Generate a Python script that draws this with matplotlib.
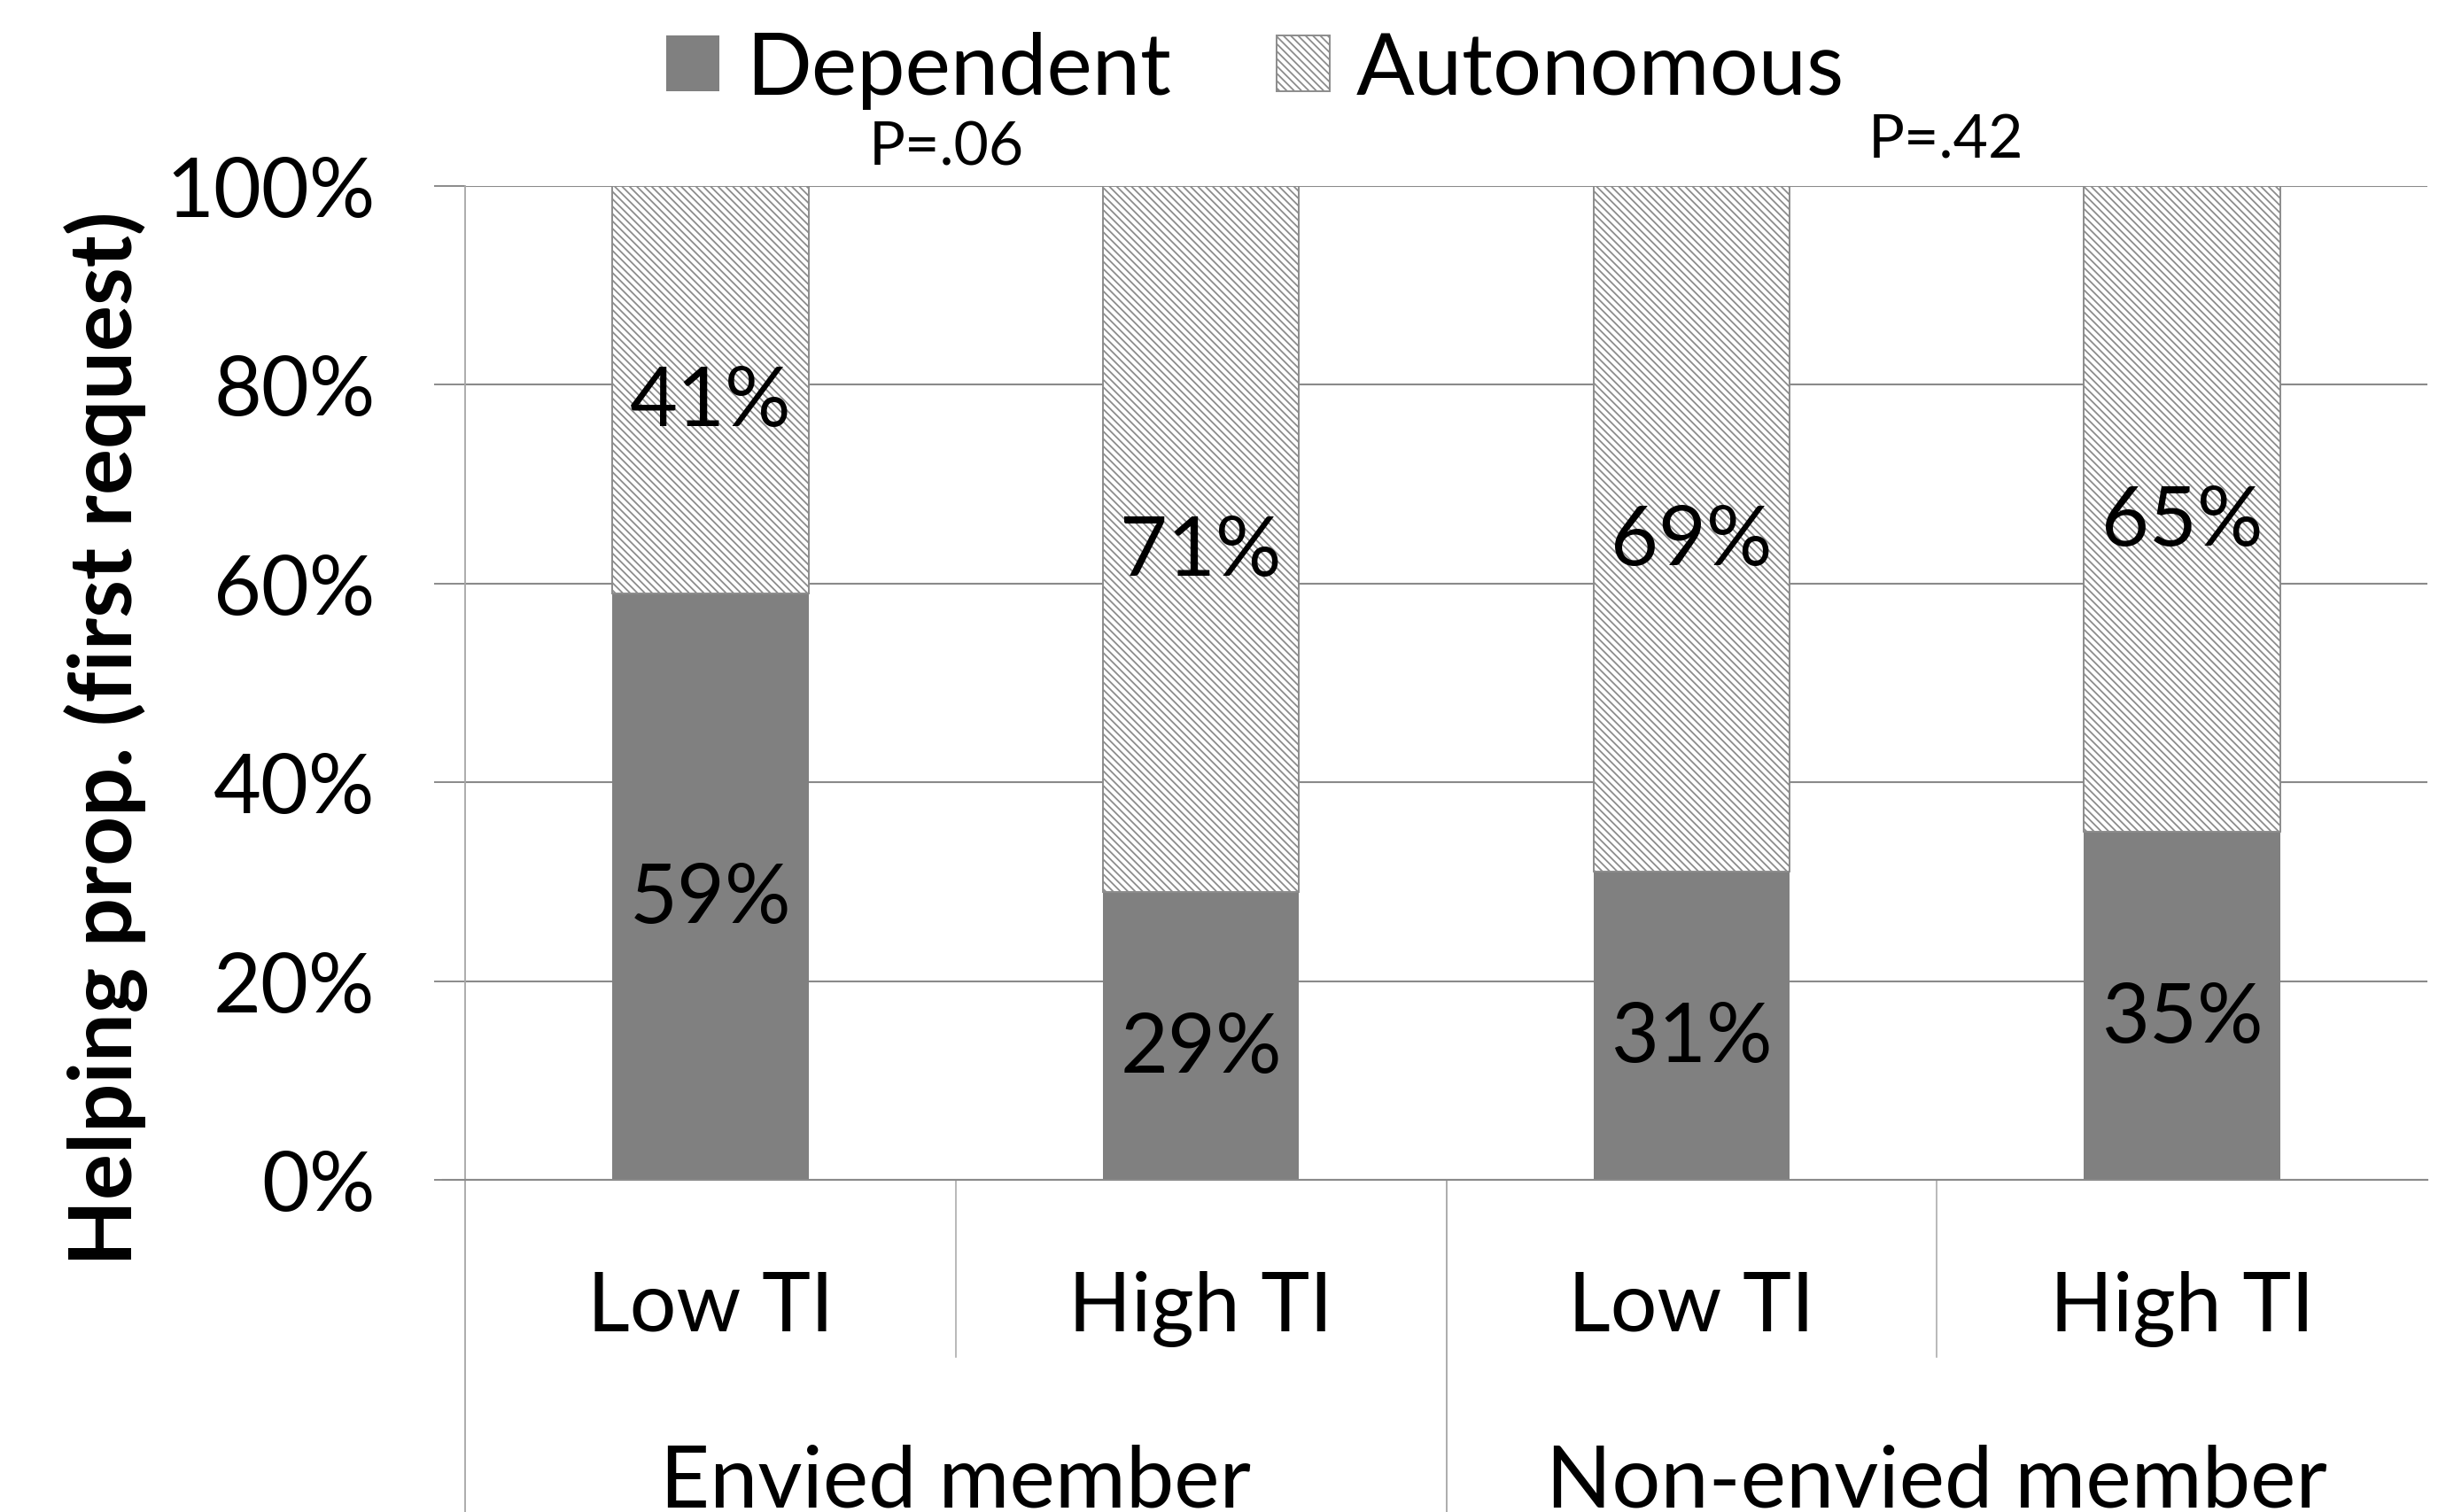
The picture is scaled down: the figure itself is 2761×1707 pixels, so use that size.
import numpy as np
import matplotlib.pyplot as plt
from matplotlib.patches import Patch
from matplotlib.ticker import PercentFormatter

plt.rcParams['font.family'] = ['Lato', 'DejaVu Sans']
plt.rcParams['hatch.linewidth'] = 1.3

# data
conditions = ['Low TI', 'High TI', 'Low TI', 'High TI']
groups = ['Envied member', 'Non-envied member']
dependent = [59, 29, 31, 35]
autonomous = [41, 71, 69, 65]
p_values = ['P=.06', 'P=.42']

W, H, DPI = 2761, 1708, 100
fig = plt.figure(figsize=(W / DPI, H / DPI), dpi=DPI)
ax = fig.add_axes([525 / W, 1 - 1333 / H, (2740 - 525) / W, (1333 - 211) / H])

dep_color = '#808080'
hatch_edge = '#8c8c8c'
grid_color = '#8a8a8a'
fs = 67      # numbers and category labels
fs_words = 70

x = np.arange(len(conditions)) + 0.5
dep = np.array(dependent) / 100
aut = np.array(autonomous) / 100

ax.bar(x, dep, width=0.4, color=dep_color, linewidth=0, zorder=2)
ax.bar(x, aut, width=0.4, bottom=dep, facecolor='white', edgecolor=hatch_edge,
       hatch='\\\\\\\\', linewidth=1.4, zorder=2)

# segment labels, caps sit slightly below the segment middle
for xi, d, a in zip(x, dep, aut):
    for yc, v in [(d / 2, d), (d + a / 2, a)]:
        ax.annotate(f'{round(v * 100)}%', (xi, yc), xytext=(0, -29),
                    textcoords='offset points', ha='center', va='baseline',
                    fontsize=fs, zorder=3)

ax.set_xlim(0, 4)
ax.set_ylim(0, 1)
ax.set_yticks(np.arange(0, 1.01, 0.2))
ax.yaxis.set_major_formatter(PercentFormatter(1.0, decimals=0))
ax.tick_params(axis='y', labelsize=fs, length=25, width=1.4, color=grid_color, pad=48)
ax.set_xticks([])
ax.grid(axis='y', color=grid_color, linewidth=1.5, zorder=0)
ax.set_axisbelow(True)

for s in ['top', 'right']:
    ax.spines[s].set_visible(False)
ax.spines['bottom'].set_color(grid_color)
ax.spines['bottom'].set_linewidth(1.5)
ax.spines['left'].set_visible(False)

# multi-level category axis
tr = ax.get_xaxis_transform()
ax.plot([0, 0], [1, -0.35], transform=tr, color='#a6a6a6', lw=1.3, clip_on=False)
ax.plot([-25 / 553.75, 0], [0, 0], transform=tr, color=grid_color, lw=1.5, clip_on=False)
for xs in [1, 3]:
    ax.plot([xs, xs], [0, -0.178], transform=tr, color='#a6a6a6', lw=1.1, clip_on=False)
ax.plot([2, 2], [0, -0.35], transform=tr, color='#a6a6a6', lw=1.3, clip_on=False)

for xi, lab in zip(x, conditions):
    ax.text(xi, -0.1515, lab, transform=tr, ha='center', va='baseline', fontsize=fs)
for gi, lab in enumerate(groups):
    ax.text(2 * gi + 1, -0.328, lab, transform=tr, ha='center', va='baseline',
            fontsize=fs_words)

# significance notes above each group
for px, py, p in zip([0.982, 3.019], [1.0214, 1.0294], p_values):
    ax.text(px, py, p, transform=tr, ha='center', va='baseline', fontsize=49)

fig.text(120 / W, 1 - 834 / H, 'Helping prop. (first request)', rotation=90,
         ha='center', va='center', fontsize=fs_words, fontweight='bold')

handles = [Patch(facecolor=dep_color, linewidth=0),
           Patch(facecolor='white', edgecolor=hatch_edge, hatch='\\\\\\\\', linewidth=1.4)]
fig.legend(handles, ['Dependent', 'Autonomous'], ncol=2, loc='center',
           bbox_to_anchor=(1417 / W, 1 - 80 / H), frameon=False, fontsize=fs_words,
           handlelength=0.62, handleheight=0.62, handletextpad=0.31,
           columnspacing=1.22, borderpad=0, borderaxespad=0)

fig.savefig('out.png', dpi=DPI)
